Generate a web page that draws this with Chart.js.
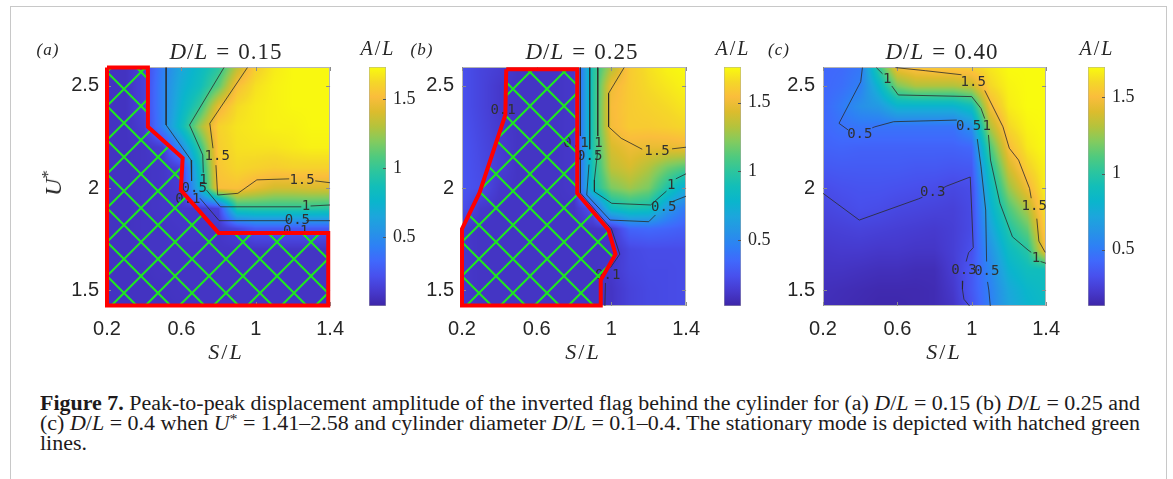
<!DOCTYPE html>
<html lang="en">
<head>
<meta charset="UTF-8">
<title>Peak-to-peak displacement amplitude</title>
<script src="https://cdn.jsdelivr.net/npm/chart.js@4.4.1/dist/chart.umd.min.js"></script>
<style>
  body { margin: 0; background: #fff; }
  #fig { position: relative; width: 1173px; height: 479px; overflow: hidden; background: #fff;
         font-family: 'Liberation Serif', 'DejaVu Serif', serif; color: #262626; }
  .frame { position: absolute; left: 10px; top: 6px; width: 1157px; height: 520px;
           border: 1.5px solid #c8c8c8; box-sizing: border-box; }
  canvas { position: absolute; top: 0; }
  .t { position: absolute; white-space: nowrap; transform: translate(-50%, -50%); line-height: 1; }
  .panel { font-style: italic; font-size: 17px; letter-spacing: 1px; }
  .title { font-size: 23px; letter-spacing: 1px; }
  .title .eq { margin: 0 0.35em; }
  .cbl { font-size: 20px; letter-spacing: 2px; }
  .axl { font-size: 22px; letter-spacing: 2px; }
  .ylab { font-size: 24px; transform: translate(-50%, -50%) rotate(-90deg); }
  .sup { font-size: 0.7em; vertical-align: 0.45em; font-style: normal; line-height: 0; }
  .caption { position: absolute; left: 40px; top: 393px; width: 1100px; font-size: 20.5px; color: #1d1a1b; }
  .caption .row { position: absolute; left: 0; white-space: nowrap; line-height: 20px; }
  .caption .fit { display: inline-block; transform-origin: 0 0; line-height: 20px; }
</style>
</head>
<body>
<div id="fig">
  <div class="frame"></div>

  <canvas id="plot-a" width="318" height="370" style="left:37px"></canvas>
  <canvas id="plot-b" width="319" height="370" style="left:392px"></canvas>
  <canvas id="plot-c" width="318" height="370" style="left:753px"></canvas>
  <canvas id="cb-a" width="62" height="370" style="left:369px"></canvas>
  <canvas id="cb-b" width="62" height="370" style="left:724px"></canvas>
  <canvas id="cb-c" width="62" height="370" style="left:1088px"></canvas>

  <div class="t panel" style="left:48px; top:49px">(a)</div>
  <div class="t panel" style="left:422px; top:49px">(b)</div>
  <div class="t panel" style="left:779px; top:49px">(c)</div>

  <div class="t title" style="left:226px; top:51px"><i>D</i>/<i>L</i><span class="eq">=</span>0.15</div>
  <div class="t title" style="left:582px; top:51px"><i>D</i>/<i>L</i><span class="eq">=</span>0.25</div>
  <div class="t title" style="left:942px; top:51px"><i>D</i>/<i>L</i><span class="eq">=</span>0.40</div>

  <div class="t cbl" style="left:378px; top:48px"><i>A</i>/<i>L</i></div>
  <div class="t cbl" style="left:733px; top:48px"><i>A</i>/<i>L</i></div>
  <div class="t cbl" style="left:1097px; top:48px"><i>A</i>/<i>L</i></div>

  <div class="t ylab" style="left:53px; top:183px"><i>U</i><span class="sup">*</span></div>

  <div class="t axl" style="left:226px; top:352px"><i>S</i>/<i>L</i></div>
  <div class="t axl" style="left:583px; top:352px"><i>S</i>/<i>L</i></div>
  <div class="t axl" style="left:944px; top:352px"><i>S</i>/<i>L</i></div>

  <div class="caption">
    <div class="row" style="top:0px"><span class="fit full"><b>Figure 7.</b> Peak-to-peak displacement amplitude of the inverted flag behind the cylinder for (a) <i>D</i>/<i>L</i> = 0.15 (b) <i>D</i>/<i>L</i> = 0.25 and</span></div>
    <div class="row" style="top:20px"><span class="fit full">(c) <i>D</i>/<i>L</i> = 0.4 when <i>U</i><span class="sup">*</span> = 1.41–2.58 and cylinder diameter <i>D</i>/<i>L</i> = 0.1–0.4. The stationary mode is depicted with hatched green</span></div>
    <div class="row" style="top:39.5px"><span class="fit">lines.</span></div>
  </div>
</div>

<script>
// grid of the amplitude maps: columns follow S/L, rows follow U* from top to bottom
const sOverL = [0.2, 0.3, 0.4, 0.5, 0.6, 0.7, 0.8, 0.9, 1.0, 1.1, 1.2, 1.3, 1.4];
const uStar = [2.6, 2.5, 2.4, 2.3, 2.2, 2.1, 2.0, 1.9, 1.8, 1.7, 1.6, 1.5, 1.4];

const slTicks = [0.2, 0.6, 1, 1.4];
const uTicks = [1.5, 2, 2.5];
const cbTicks = [0.5, 1, 1.5];

// A/L for D/L = 0.15
const ampA = [
  [0.07, 0.07, 0.15, 0.42, 0.65, 0.80, 0.95, 1.30, 1.58, 1.68, 1.72, 1.72, 1.72],
  [0.07, 0.07, 0.15, 0.45, 0.70, 0.85, 1.10, 1.52, 1.65, 1.70, 1.72, 1.72, 1.72],
  [0.07, 0.07, 0.15, 0.45, 0.75, 1.00, 1.45, 1.63, 1.68, 1.70, 1.72, 1.72, 1.72],
  [0.07, 0.07, 0.12, 0.45, 0.82, 1.25, 1.60, 1.66, 1.68, 1.70, 1.70, 1.72, 1.72],
  [0.07, 0.07, 0.08, 0.12, 0.50, 1.00, 1.58, 1.65, 1.66, 1.66, 1.68, 1.70, 1.70],
  [0.07, 0.07, 0.08, 0.09, 0.15, 0.85, 1.55, 1.62, 1.60, 1.58, 1.60, 1.60, 1.60],
  [0.07, 0.07, 0.08, 0.09, 0.12, 0.75, 1.52, 1.53, 1.45, 1.38, 1.38, 1.40, 1.40],
  [0.07, 0.07, 0.08, 0.09, 0.10, 0.10, 0.15, 0.95, 0.97, 0.97, 0.97, 0.97, 0.96],
  [0.07, 0.07, 0.08, 0.08, 0.09, 0.09, 0.09, 0.15, 0.25, 0.25, 0.25, 0.25, 0.25],
  [0.07, 0.07, 0.08, 0.08, 0.08, 0.08, 0.08, 0.08, 0.08, 0.08, 0.08, 0.08, 0.08],
  [0.07, 0.07, 0.07, 0.08, 0.08, 0.08, 0.08, 0.08, 0.08, 0.08, 0.08, 0.08, 0.08],
  [0.07, 0.07, 0.07, 0.07, 0.08, 0.08, 0.08, 0.08, 0.08, 0.08, 0.08, 0.08, 0.08],
  [0.07, 0.07, 0.07, 0.07, 0.07, 0.08, 0.08, 0.08, 0.08, 0.08, 0.08, 0.08, 0.08]
];

// A/L for D/L = 0.25
const ampB = [
  [0.24, 0.18, 0.15, 0.10, 0.10, 0.10, 0.12, 0.95, 1.30, 1.60, 1.68, 1.74, 1.76],
  [0.24, 0.18, 0.12, 0.10, 0.10, 0.10, 0.12, 0.95, 1.50, 1.60, 1.66, 1.70, 1.74],
  [0.24, 0.18, 0.12, 0.10, 0.10, 0.10, 0.12, 0.95, 1.53, 1.60, 1.63, 1.66, 1.70],
  [0.25, 0.19, 0.13, 0.10, 0.10, 0.10, 0.12, 0.95, 1.52, 1.60, 1.60, 1.62, 1.65],
  [0.26, 0.20, 0.14, 0.10, 0.10, 0.10, 0.12, 0.95, 1.42, 1.50, 1.48, 1.48, 1.50],
  [0.26, 0.21, 0.15, 0.10, 0.10, 0.10, 0.12, 0.92, 1.35, 1.42, 1.32, 1.18, 1.10],
  [0.26, 0.22, 0.12, 0.10, 0.10, 0.10, 0.12, 0.90, 1.20, 1.28, 1.20, 0.95, 0.70],
  [0.24, 0.12, 0.10, 0.10, 0.10, 0.10, 0.10, 0.25, 0.85, 0.93, 0.90, 0.60, 0.42],
  [0.12, 0.10, 0.10, 0.10, 0.10, 0.10, 0.10, 0.10, 0.12, 0.33, 0.35, 0.33, 0.30],
  [0.12, 0.10, 0.10, 0.10, 0.10, 0.10, 0.10, 0.10, 0.10, 0.20, 0.22, 0.22, 0.22],
  [0.12, 0.10, 0.10, 0.10, 0.10, 0.10, 0.10, 0.10, 0.12, 0.19, 0.21, 0.21, 0.22],
  [0.12, 0.10, 0.10, 0.10, 0.10, 0.10, 0.10, 0.10, 0.10, 0.17, 0.20, 0.21, 0.22],
  [0.12, 0.10, 0.10, 0.10, 0.10, 0.10, 0.10, 0.10, 0.10, 0.17, 0.20, 0.21, 0.22]
];

// A/L for D/L = 0.40
const ampC = [
  [0.42, 0.43, 0.48, 1.05, 1.50, 1.56, 1.58, 1.58, 1.60, 1.65, 1.70, 1.70, 1.70],
  [0.42, 0.45, 0.52, 0.82, 1.20, 1.30, 1.30, 1.30, 1.35, 1.60, 1.68, 1.70, 1.70],
  [0.42, 0.50, 0.60, 0.65, 0.80, 0.80, 0.80, 0.80, 0.90, 1.48, 1.66, 1.70, 1.70],
  [0.42, 0.46, 0.48, 0.47, 0.47, 0.47, 0.47, 0.47, 0.60, 1.30, 1.60, 1.68, 1.70],
  [0.40, 0.41, 0.40, 0.40, 0.40, 0.40, 0.40, 0.40, 0.42, 1.10, 1.50, 1.65, 1.70],
  [0.36, 0.37, 0.37, 0.37, 0.37, 0.36, 0.36, 0.35, 0.36, 0.95, 1.38, 1.58, 1.68],
  [0.31, 0.33, 0.34, 0.34, 0.33, 0.32, 0.31, 0.29, 0.31, 0.85, 1.25, 1.47, 1.68],
  [0.28, 0.30, 0.32, 0.31, 0.29, 0.28, 0.27, 0.26, 0.30, 0.78, 1.10, 1.30, 1.65],
  [0.25, 0.26, 0.27, 0.26, 0.25, 0.24, 0.23, 0.25, 0.30, 0.70, 0.98, 1.15, 1.60],
  [0.22, 0.23, 0.23, 0.22, 0.22, 0.21, 0.21, 0.25, 0.32, 0.62, 0.88, 1.00, 1.52],
  [0.20, 0.20, 0.19, 0.18, 0.18, 0.17, 0.17, 0.24, 0.36, 0.56, 0.80, 0.90, 0.90],
  [0.18, 0.17, 0.16, 0.15, 0.15, 0.15, 0.16, 0.22, 0.36, 0.53, 0.73, 0.83, 0.88],
  [0.17, 0.16, 0.15, 0.14, 0.14, 0.15, 0.16, 0.20, 0.33, 0.52, 0.70, 0.80, 0.85]
];

// colour limits of each map
const climA = [0.0, 1.73];
const climB = [0.02, 1.76];
const climC = [0.13, 1.70];

// contour lines as [S/L, U*] pieces, broken where the level labels sit
const contoursA = [
  [[0.955, 2.59], [0.753, 2.317], [0.77, 2.195]],
  [[0.786, 2.112], [0.795, 1.966], [0.904, 1.974], [1.006, 2.04], [1.18, 2.045]],
  [[1.32, 2.035], [1.4, 2.026]],
  [[0.829, 2.59], [0.644, 2.309], [0.715, 2.162], [0.718, 2.075]],
  [[0.735, 1.99], [0.81, 1.908], [1.245, 1.908]],
  [[1.295, 1.912], [1.4, 1.917]],
  [[0.518, 2.59], [0.518, 2.309], [0.652, 2.137], [0.655, 2.035]],
  [[0.7, 1.95], [0.803, 1.84], [1.18, 1.84]],
  [[1.27, 1.84], [1.4, 1.84]],
  [[0.665, 1.91], [0.8, 1.787], [1.17, 1.787]],
  [[1.26, 1.787], [1.4, 1.787]]
];
const labelsA = [
  [0.793, 2.153, '1.5'], [1.249, 2.04, '1.5'], [0.719, 2.037, '1'], [1.27, 1.908, '1'],
  [0.669, 1.998, '0.5'], [1.224, 1.84, '0.5'], [0.635, 1.946, '0.1'], [1.215, 1.787, '0.1']
];

const contoursB = [
  [[1.068, 2.59], [0.985, 2.464], [0.985, 2.30], [1.052, 2.244], [1.165, 2.19]],
  [[1.325, 2.192], [1.4, 2.2]],
  [[0.927, 2.59], [0.927, 2.255]],
  [[0.927, 2.185], [0.909, 2.04], [0.909, 1.982], [1.002, 1.925], [1.21, 1.917], [1.295, 1.985]],
  [[1.345, 2.045], [1.4, 2.07]],
  [[0.884, 2.59], [0.884, 2.19]],
  [[0.88, 2.115], [0.868, 1.966], [0.993, 1.843], [1.2, 1.835], [1.236, 1.868]],
  [[1.33, 1.935], [1.4, 1.96]],
  [[0.834, 2.59], [0.834, 2.255]],
  [[0.834, 2.185], [0.834, 1.976], [1.0, 1.8], [1.045, 1.676], [0.995, 1.61]],
  [[0.968, 1.535], [0.965, 1.42]]
];
const labelsB = [
  [1.244, 2.182, '1.5'], [0.931, 2.22, '1'], [1.32, 2.015, '1'], [0.884, 2.153, '0.5'],
  [1.28, 1.905, '0.5'], [0.81, 2.22, '0.1'], [0.98, 1.574, '0.1'], [0.42, 2.382, '0.1']
];

const contoursC = [
  [[0.2, 1.974], [0.395, 1.843], [0.714, 1.947], [0.735, 1.955]],
  [[0.845, 2.0], [0.866, 2.01], [0.992, 2.054], [1.0, 1.888], [1.008, 1.708], [0.983, 1.683], [0.97, 1.64]],
  [[0.952, 1.545], [0.95, 1.504], [0.958, 1.455], [0.99, 1.42]],
  [[0.412, 2.59], [0.403, 2.521], [0.286, 2.317], [0.336, 2.284]],
  [[0.465, 2.295], [0.479, 2.30], [0.58, 2.325], [0.92, 2.333]],
  [[1.03, 2.24], [1.05, 2.104], [1.075, 1.892], [1.08, 1.64]],
  [[1.085, 1.54], [1.092, 1.50], [1.1, 1.42]],
  [[0.487, 2.59], [0.52, 2.56]],
  [[0.57, 2.5], [0.605, 2.456], [1.0, 2.448], [1.05, 2.39], [1.07, 2.34]],
  [[1.09, 2.26], [1.101, 2.137], [1.152, 1.925], [1.219, 1.761], [1.303, 1.696], [1.32, 1.685]],
  [[1.37, 1.64], [1.4, 1.631]],
  [[0.59, 2.59], [0.75, 2.575], [0.945, 2.555]],
  [[1.07, 2.478], [1.168, 2.30], [1.202, 2.195], [1.252, 2.137], [1.311, 1.998], [1.32, 1.95]],
  [[1.35, 1.85], [1.361, 1.74], [1.395, 1.685]]
];
const labelsC = [
  [0.79, 1.978, '0.3'], [0.958, 1.595, '0.3'], [0.398, 2.265, '0.5'], [0.983, 2.30, '0.5'],
  [1.081, 1.59, '0.5'], [0.546, 2.53, '1'], [1.081, 2.30, '1'], [1.345, 1.655, '1'],
  [1.008, 2.52, '1.5'], [1.336, 1.908, '1.5']
];

// stationary-mode regions (hatched)
const hatchA = [[0.2, 2.59], [0.42, 2.59], [0.42, 2.30], [0.607, 2.147], [0.597, 1.99], [0.80, 1.78],
  [1.39, 1.78], [1.39, 1.425], [0.2, 1.425], [0.2, 2.59]];
const hatchB = [[0.437, 2.582], [0.817, 2.582], [0.817, 1.974], [0.985, 1.794], [1.022, 1.676],
  [0.943, 1.549], [0.943, 1.425], [0.2, 1.425], [0.2, 1.80], [0.294, 1.977], [0.432, 2.358], [0.437, 2.582]];

// parula colormap
const parulaStops = [
  [62, 38, 168], [70, 58, 206], [72, 80, 237], [64, 104, 252], [46, 128, 245], [38, 148, 230],
  [28, 166, 220], [10, 181, 204], [18, 190, 185], [44, 197, 158], [80, 202, 126], [130, 203, 95],
  [180, 195, 60], [220, 188, 45], [250, 189, 60], [245, 215, 40], [249, 251, 14]
];

function parula(t) {
  t = Math.min(1, Math.max(0, t));
  const n = parulaStops.length - 1;
  const i = Math.min(Math.floor(t * n), n - 1), r = t * n - i;
  const a = parulaStops[i], b = parulaStops[i + 1];
  return [0, 1, 2].map(k => Math.round(a[k] + (b[k] - a[k]) * r));
}

// bilinear lookup in the amplitude grid
function sample(grid, s, u) {
  const clamp = (v, lo, hi) => Math.min(hi, Math.max(lo, v));
  const fx = clamp((s - sOverL[0]) / (sOverL[1] - sOverL[0]), 0, sOverL.length - 1);
  const fy = clamp((u - uStar[0]) / (uStar[1] - uStar[0]), 0, uStar.length - 1);
  const i = Math.min(Math.floor(fx), sOverL.length - 2), j = Math.min(Math.floor(fy), uStar.length - 2);
  const tx = fx - i, ty = fy - j;
  const top = grid[j][i] * (1 - tx) + grid[j][i + 1] * tx;
  const bot = grid[j + 1][i] * (1 - tx) + grid[j + 1][i + 1] * tx;
  return top * (1 - ty) + bot * ty;
}

// draws the shaded map, the axes box and the contour labels under the lines
const heatmap = {
  id: 'heatmap',
  beforeDatasetsDraw(chart, args, opts) {
    const { ctx, chartArea: a, scales: { x, y } } = chart;
    const w = Math.round(a.right - a.left), h = Math.round(a.bottom - a.top);
    const off = document.createElement('canvas');
    off.width = w; off.height = h;
    const octx = off.getContext('2d');
    const img = octx.createImageData(w, h);
    const [lo, hi] = opts.clim;
    for (let j = 0; j < h; j++) {
      const u = y.getValueForPixel(a.top + j + 0.5);
      for (let i = 0; i < w; i++) {
        const s = x.getValueForPixel(a.left + i + 0.5);
        const c = parula((sample(opts.grid, s, u) - lo) / (hi - lo));
        const k = (j * w + i) * 4;
        img.data[k] = c[0]; img.data[k + 1] = c[1]; img.data[k + 2] = c[2]; img.data[k + 3] = 255;
      }
    }
    octx.putImageData(img, 0, 0);
    ctx.save();
    ctx.drawImage(off, a.left, a.top, w, h);

    // box with inward ticks
    ctx.strokeStyle = '#b4b4b4';
    ctx.lineWidth = 1;
    ctx.strokeRect(a.left + 0.5, a.top + 0.5, w - 1, h - 1);
    ctx.strokeStyle = '#8c8c8c';
    ctx.beginPath();
    slTicks.forEach(v => {
      const px = Math.round(x.getPixelForValue(v)) + 0.5;
      ctx.moveTo(px, a.bottom); ctx.lineTo(px, a.bottom - 4);
      ctx.moveTo(px, a.top); ctx.lineTo(px, a.top + 4);
    });
    uTicks.forEach(v => {
      const py = Math.round(y.getPixelForValue(v)) + 0.5;
      ctx.moveTo(a.left, py); ctx.lineTo(a.left + 4, py);
      ctx.moveTo(a.right, py); ctx.lineTo(a.right - 4, py);
    });
    ctx.stroke();

    ctx.font = '14px "DejaVu Sans Mono", monospace';
    ctx.fillStyle = '#303030';
    ctx.textAlign = 'center';
    ctx.textBaseline = 'middle';
    opts.labels.forEach(([s, u, txt]) => ctx.fillText(txt, x.getPixelForValue(s), y.getPixelForValue(u)));
    ctx.restore();
  }
};

function hatchPattern(ctx, ox, oy) {
  const size = 34;
  const c = document.createElement('canvas');
  c.width = c.height = size;
  const g = c.getContext('2d');
  g.strokeStyle = '#1ee81e';
  g.lineWidth = 2;
  g.beginPath();
  [-size, 0, size].forEach(d => {
    g.moveTo(d - 2, -2); g.lineTo(d + size + 2, size + 2);
    g.moveTo(size + 2 + d, -2); g.lineTo(d - 2, size + 2);
  });
  g.stroke();
  const p = ctx.createPattern(c, 'repeat');
  p.setTransform(new DOMMatrix().translate(ox, oy));
  return p;
}

function makePanel(id, grid, clim, contours, labels, hatch) {
  const canvas = document.getElementById('plot-' + id);
  const ctx = canvas.getContext('2d');
  const datasets = contours.map(piece => ({
    data: piece.map(([x, y]) => ({ x, y })),
    borderColor: '#2b2b2b', borderWidth: 0.8, pointRadius: 0, fill: false, tension: 0, order: 1
  }));
  if (hatch) {
    datasets.push({
      data: hatch.map(([x, y]) => ({ x, y })),
      borderColor: '#ff0000', borderWidth: 4, borderJoinStyle: 'miter',
      backgroundColor: hatchPattern(ctx, 70, 72), fill: 'shape',
      pointRadius: 0, tension: 0, order: 0, clip: 8
    });
  }
  const tickFont = { family: 'Liberation Sans', size: 20 };
  new Chart(canvas, {
    type: 'line',
    data: { datasets },
    options: {
      responsive: false, animation: false, devicePixelRatio: 1, events: [],
      layout: { padding: { top: 67, right: 10, left: 0, bottom: 0 } },
      plugins: { legend: { display: false }, tooltip: { enabled: false },
                 heatmap: { grid, clim, labels } },
      scales: {
        x: {
          type: 'linear', min: 0.2, max: 1.4,
          afterBuildTicks: s => { s.ticks = slTicks.map(v => ({ value: v })); },
          afterFit: s => { s.height = 64; },
          grid: { display: false, drawTicks: false }, border: { display: false },
          ticks: { padding: 11, maxRotation: 0, font: tickFont, color: '#262626', callback: v => String(v) }
        },
        y: {
          type: 'linear', min: 1.422, max: 2.593,
          afterBuildTicks: s => { s.ticks = uTicks.map(v => ({ value: v })); },
          afterFit: s => { s.width = 70; },
          grid: { display: false, drawTicks: false }, border: { display: false },
          ticks: { padding: 8, font: tickFont, color: '#262626', callback: v => String(v) }
        }
      }
    },
    plugins: [heatmap]
  });
}

const cbTicksPlugin = {
  id: 'cbTicks',
  afterDatasetsDraw(chart) {
    const { ctx, chartArea: a, scales: { y } } = chart;
    ctx.save();
    ctx.strokeStyle = '#555';
    ctx.lineWidth = 1;
    ctx.beginPath();
    cbTicks.forEach(v => {
      const py = Math.round(y.getPixelForValue(v)) + 0.5;
      ctx.moveTo(a.right, py); ctx.lineTo(a.right - 3, py);
    });
    ctx.stroke();
    ctx.restore();
  }
};

function makeColorbar(id, clim) {
  const [lo, hi] = clim;
  new Chart(document.getElementById('cb-' + id), {
    type: 'bar',
    data: {
      labels: ['A/L'],
      datasets: [{
        data: [[lo, hi]],
        backgroundColor: c => {
          const ch = c.chart, ys = ch.scales.y;
          if (!ch.chartArea || !ys) return 'rgb(18,190,185)';
          const g = ch.ctx.createLinearGradient(0, ys.getPixelForValue(hi), 0, ys.getPixelForValue(lo));
          parulaStops.forEach((col, i) => g.addColorStop(1 - i / (parulaStops.length - 1), `rgb(${col.join(',')})`));
          return g;
        },
        borderColor: '#a8a8a8', borderWidth: 0.8, borderSkipped: false,
        barPercentage: 1, categoryPercentage: 1
      }]
    },
    options: {
      responsive: false, animation: false, devicePixelRatio: 1, events: [],
      layout: { padding: { top: 67, bottom: 64, left: 0, right: 0 } },
      plugins: { legend: { display: false }, tooltip: { enabled: false } },
      scales: {
        x: { display: false },
        y: {
          position: 'right', min: lo, max: hi,
          afterBuildTicks: s => { s.ticks = cbTicks.map(v => ({ value: v })); },
          afterFit: s => { s.width = 45; },
          grid: { display: false, drawTicks: false }, border: { display: false },
          ticks: { padding: 7, font: { family: 'Liberation Serif', size: 18 }, color: '#262626',
                   callback: v => String(v) }
        }
      }
    },
    plugins: [cbTicksPlugin]
  });
}

makePanel('a', ampA, climA, contoursA, labelsA, hatchA);
makePanel('b', ampB, climB, contoursB, labelsB, hatchB);
makePanel('c', ampC, climC, contoursC, labelsC, null);
makeColorbar('a', climA);
makeColorbar('b', climB);
makeColorbar('c', climC);

// squeeze the caption lines so the full ones span the text block
const captionWidth = 1100;
const squeeze = [];
document.querySelectorAll('.caption .fit.full').forEach(el => {
  const k = captionWidth / el.getBoundingClientRect().width;
  squeeze.push(k);
  el.style.transform = `scaleX(${k})`;
});
const kMean = squeeze.reduce((s, k) => s + k, 0) / squeeze.length;
document.querySelectorAll('.caption .fit:not(.full)').forEach(el => {
  el.style.transform = `scaleX(${kMean})`;
});
</script>
</body>
</html>
